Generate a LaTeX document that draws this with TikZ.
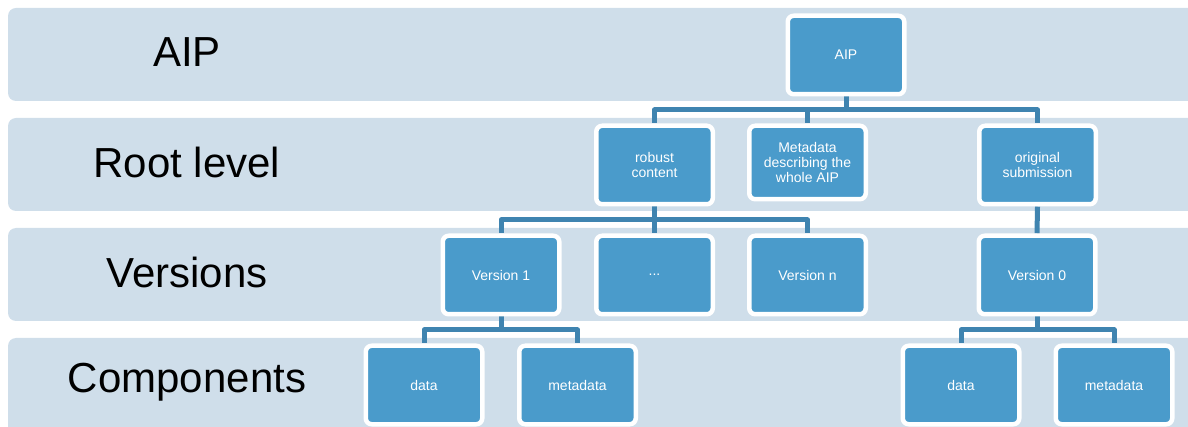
\documentclass[tikz,border=0pt]{standalone}
\usepackage{fontspec}
\setmainfont{Liberation Sans}
\usetikzlibrary{backgrounds}
\definecolor{bandfill}{HTML}{CFDEEA}
\definecolor{boxfill}{HTML}{4A9BCB}
\definecolor{linkcol}{HTML}{3F84B0}
\tikzset{
  band/.style={fill=bandfill, rounded corners=8pt},
  levellabel/.style={font=\fontsize{42}{48}\selectfont, text=black, anchor=center},
  item/.style={draw=white, line width=4.5pt, fill=boxfill, rounded corners=6pt,
    minimum width=116.5pt, minimum height=78.5pt, inner sep=2pt, align=center,
    text=white, font=\fontsize{14}{15}\selectfont},
  conn/.style={draw=linkcol, line width=5pt, line join=round}
}
\begin{document}
\begin{tikzpicture}[x=1pt, y=-1pt]
  \clip (0,0) rectangle (1188,427);
  \useasboundingbox (0,0) rectangle (1188,427);

  % level captions
  \node[levellabel] (lAIP)  at (187,52)  {AIP};
  \node[levellabel] (lRoot) at (187,162) {Root level};
  \node[levellabel] (lVer)  at (187,272) {Versions};
  \node[levellabel] (lComp) at (187,382) {Components};

  % tree boxes
  \node[item] (aip)    at (846,55)    {AIP};
  \node[item] (robust) at (654.5,165) {robust\\content};
  \node[item, minimum height=73.5pt] (meta) at (807.5,162.5) {Metadata\\describing the\\whole AIP};
  \node[item] (orig)   at (1037.5,165) {original\\submission};

  \node[item] (v1)    at (501,275)   {Version 1};
  \node[item] (vdots) at (654.5,275) {...};
  \node[item] (vn)    at (807.5,275) {Version n};
  \node[item] (v0)    at (1037,275)  {Version 0};

  \node[item] (d1) at (424,385)   {data};
  \node[item] (m1) at (577.5,385) {metadata};
  \node[item] (d0) at (961,385)   {data};
  \node[item] (m0) at (1114,385)  {metadata};

  % bus heights
  \coordinate (bus1) at (0,110);
  \coordinate (bus2) at (0,220);
  \coordinate (bus3) at (0,330);

  \begin{scope}[on background layer]
    % level bands
    \fill[band] (8,8)   rectangle (1210,101);
    \fill[band] (8,118) rectangle (1210,211);
    \fill[band] (8,228) rectangle (1210,321);
    \fill[band] (8,338) rectangle (1210,450);

    % connectors
    \draw[conn] (aip.south) -- (aip.south |- bus1) -| (robust.north);
    \draw[conn] (aip.south |- bus1) -| (meta.north);
    \draw[conn] (aip.south |- bus1) -| (orig.north);

    \draw[conn] (robust.south) -- (robust.south |- bus2) -| (v1.north);
    \draw[conn] (robust.south |- bus2) -| (vdots.north);
    \draw[conn] (robust.south |- bus2) -| (vn.north);
    \draw[conn] (orig.south) -- (v0.north);

    \draw[conn] (v1.south) -- (v1.south |- bus3) -| (d1.north);
    \draw[conn] (v1.south |- bus3) -| (m1.north);
    \draw[conn] (v0.south) -- (v0.south |- bus3) -| (d0.north);
    \draw[conn] (v0.south |- bus3) -| (m0.north);
  \end{scope}
\end{tikzpicture}
\end{document}
